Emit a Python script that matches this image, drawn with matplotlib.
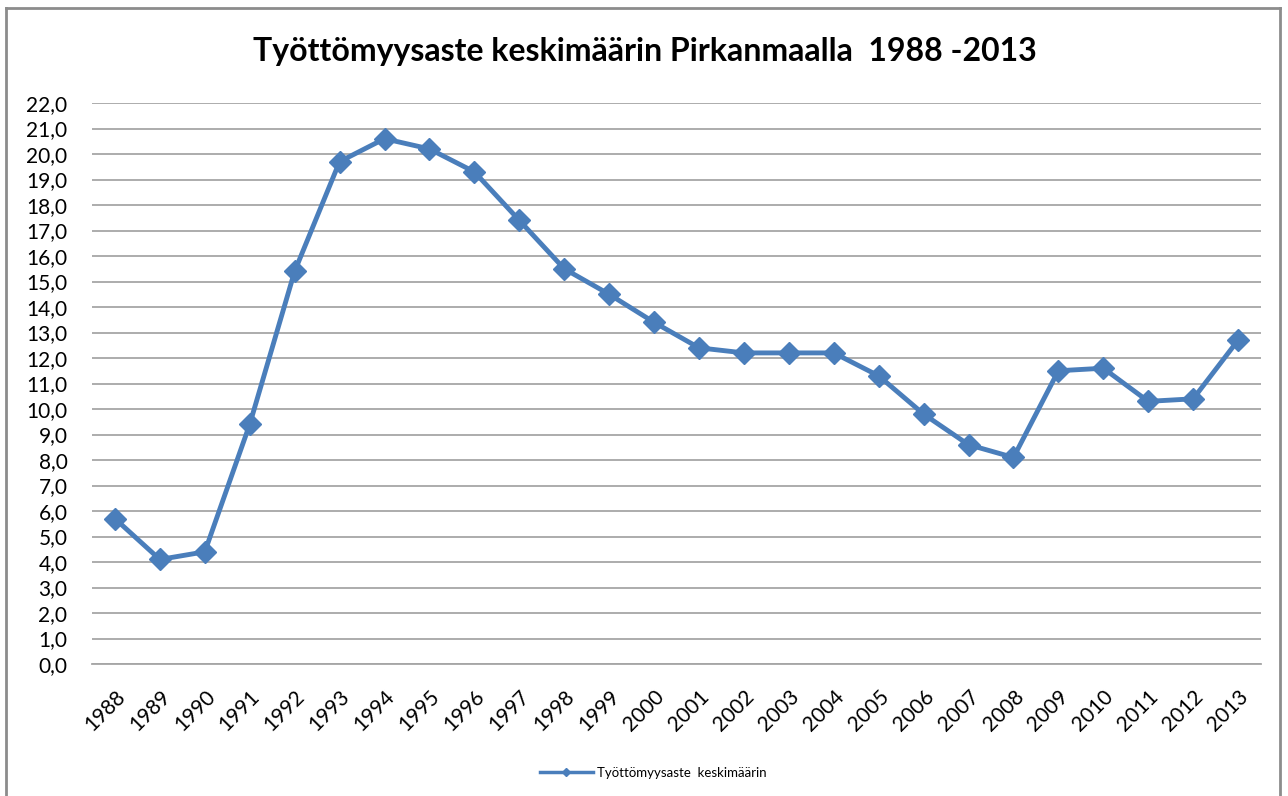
import matplotlib
matplotlib.use("Agg")
import matplotlib.pyplot as plt
from matplotlib.lines import Line2D

# ─────────────────────────────────────────
#  DATA
# ─────────────────────────────────────────
YEARS = [str(y) for y in range(1988, 2014)]
RATES = [5.7, 4.1, 4.4, 9.4, 15.4, 19.7, 20.6, 20.2, 19.3, 17.4,
         15.5, 14.5, 13.4, 12.4, 12.2, 12.2, 12.2, 11.3, 9.8, 8.6,
         8.1, 11.5, 11.6, 10.3, 10.4, 12.7]
Y_TICKS = list(range(0, 23))

TITLE  = "Työttömyysaste keskimäärin Pirkanmaalla  1988 -2013"
LEGEND = "Työttömyysaste  keskimäärin"
BLUE   = "#4A7EBB"
GRID   = "#A6A6A6"

plt.rcParams["font.family"] = ["Lato", "DejaVu Sans"]

fig = plt.figure(figsize=(12.88, 7.96), dpi=100)
ax = fig.add_axes([0.0718, 0.1658, 0.9069, 0.7048])

x = list(range(len(YEARS)))
ax.plot(x, RATES, color=BLUE, lw=3.5, marker="D", ms=11.5, zorder=3)

ax.set_xlim(-0.5, len(YEARS) - 0.5)
ax.set_ylim(0, 22)
ax.set_yticks(Y_TICKS)
ax.set_yticklabels([f"{v},0" for v in Y_TICKS], fontsize=15)
ax.set_xticks(x)
ax.set_xticklabels(YEARS, rotation=45, ha="right", va="top",
                   rotation_mode="anchor", fontsize=15)
ax.tick_params(axis="y", length=0, pad=18)
ax.tick_params(axis="x", length=0, pad=16)

ax.yaxis.grid(True, color=GRID, lw=1.3)
ax.set_axisbelow(True)
for s in ["top", "right", "left"]:
    ax.spines[s].set_visible(False)
ax.spines["bottom"].set_color(GRID)
ax.spines["bottom"].set_linewidth(1.3)

fig.text(0.501, 0.935, TITLE, ha="center", va="center",
         fontsize=23, fontweight="bold")

handle = Line2D([], [], color=BLUE, lw=2.5, marker="D", ms=4)
fig.legend([handle], [LEGEND], loc="center", bbox_to_anchor=(0.507, 0.029),
           frameon=False, fontsize=9.5, handlelength=4, handletextpad=0.3)

# outer chart border (left, top, right)
fig.add_artist(Line2D([6 / 1288, 6 / 1288], [0, 1 - 8 / 796],
                      transform=fig.transFigure, color="#8C8C8C", lw=2))
fig.add_artist(Line2D([6 / 1288, 1280 / 1288], [1 - 8 / 796, 1 - 8 / 796],
                      transform=fig.transFigure, color="#8C8C8C", lw=2))
fig.add_artist(Line2D([1280 / 1288, 1280 / 1288], [0, 1 - 8 / 796],
                      transform=fig.transFigure, color="#8C8C8C", lw=2))

fig.savefig("out.png", dpi=100)
